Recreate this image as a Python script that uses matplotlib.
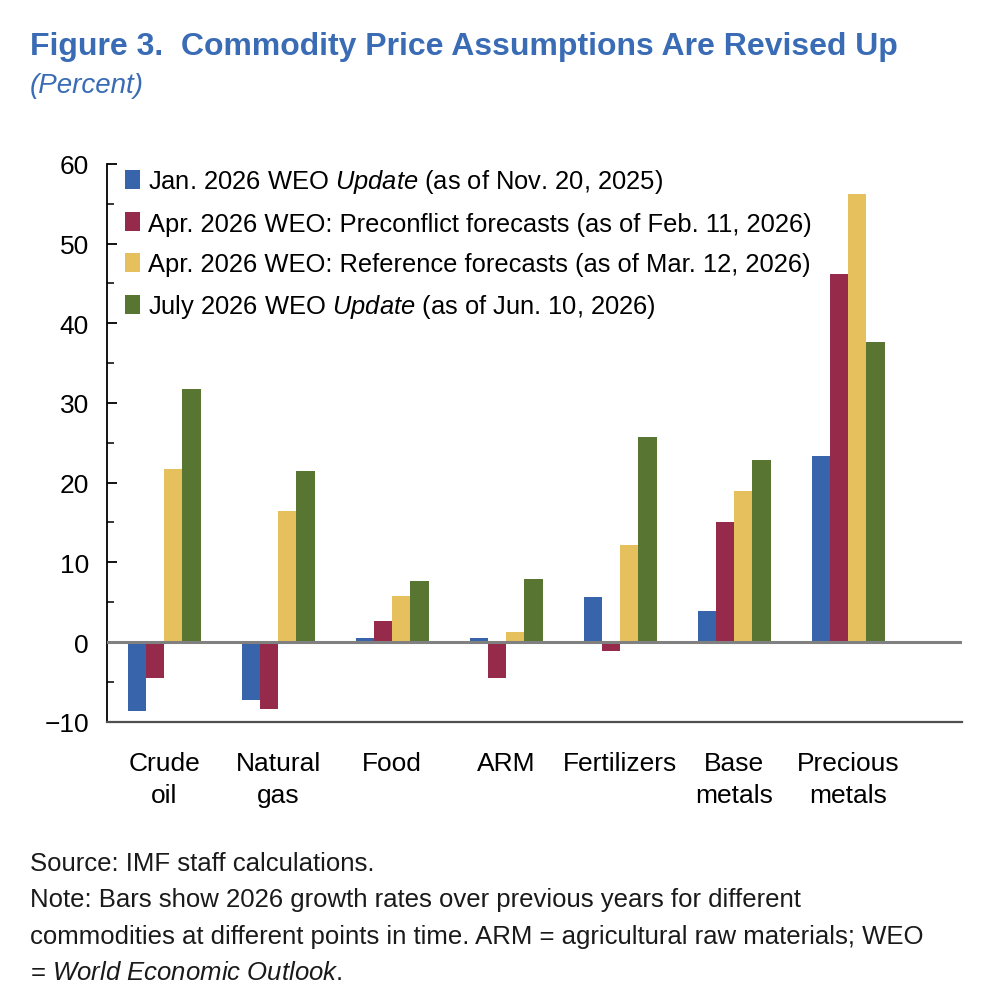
import matplotlib.pyplot as plt
import numpy as np
from matplotlib.ticker import MultipleLocator

plt.rcParams['font.family'] = ['Liberation Sans', 'DejaVu Sans']
plt.rcParams['mathtext.fontset'] = 'custom'
plt.rcParams['mathtext.rm'] = 'Liberation Sans'
plt.rcParams['mathtext.it'] = 'Liberation Sans:italic'

# Data
categories = ['Crude\noil', 'Natural\ngas', 'Food', 'ARM', 'Fertilizers', 'Base\nmetals', 'Precious\nmetals']
jan_update = [-8.7, -7.3, 0.5, 0.5, 5.6, 3.9, 23.4]
apr_preconflict = [-4.5, -8.4, 2.6, -4.5, -1.1, 15.0, 46.2]
apr_reference = [21.7, 16.4, 5.8, 1.2, 12.2, 18.9, 56.2]
jul_update = [31.7, 21.5, 7.6, 7.9, 25.7, 22.8, 37.7]

series_labels = [
    r'Jan. 2026 WEO $\it{Update}$ (as of Nov. 20, 2025)',
    'Apr. 2026 WEO: Preconflict forecasts (as of Feb. 11, 2026)',
    'Apr. 2026 WEO: Reference forecasts (as of Mar. 12, 2026)',
    r'July 2026 WEO $\it{Update}$ (as of Jun. 10, 2026)',
]
colors = ['#3764aa', '#962a4b', '#e6c05c', '#587532']

fig = plt.figure(figsize=(9.92, 10.04), dpi=100)
ax = fig.add_axes([0.1079, 0.2802, 0.8619, 0.5555])

x = np.arange(len(categories))
bar_width = 0.16
all_series = [jan_update, apr_preconflict, apr_reference, jul_update]
for i, (vals, lab, col) in enumerate(zip(all_series, series_labels, colors)):
    ax.bar(x + (i - 1.5) * bar_width, vals, width=bar_width, color=col, label=lab, zorder=2)

# zero line
ax.axhline(0, color='#808080', linewidth=2.2, zorder=3)

ax.set_xlim(-0.5, 7.0)
ax.set_ylim(-10, 60)
ax.set_yticks(np.arange(-10, 61, 10))
ax.yaxis.set_minor_locator(MultipleLocator(5))
ax.set_xticks(x)
ax.set_xticklabels(categories, fontsize=19, linespacing=1.45)

ax.spines['top'].set_visible(False)
ax.spines['right'].set_visible(False)
ax.spines['left'].set_linewidth(1.3)
ax.spines['bottom'].set_color('#505050')
ax.spines['bottom'].set_linewidth(1.6)

ax.tick_params(axis='y', which='major', direction='in', length=7.5, width=1.3, labelsize=19, pad=13)
ax.tick_params(axis='y', which='minor', direction='in', length=5, width=1.1)
ax.tick_params(axis='x', length=0, pad=21)

ax.legend(loc='upper left', bbox_to_anchor=(0.0, 1.026), frameon=False, fontsize=18.4,
          handlelength=0.6, handleheight=0.75, handletextpad=0.3, labelspacing=0.64,
          borderaxespad=0.3)

fig.text(0.030, 0.953, 'Figure 3.  Commodity Price Assumptions Are Revised Up',
         fontsize=23, fontweight='bold', color='#3a6cb5', va='center')
fig.text(0.030, 0.914, '(Percent)', fontsize=20, style='italic', color='#3a6cb5', va='center')

notes = [
    'Source: IMF staff calculations.',
    'Note: Bars show 2026 growth rates over previous years for different',
    'commodities at different points in time. ARM = agricultural raw materials; WEO',
    r'= $\it{World\ Economic\ Outlook}$.',
]
y0 = 0.1395
for k, line in enumerate(notes):
    fig.text(0.030, y0 - k * 0.0362, line, fontsize=18.5, color='#1a1a1a', va='center')

fig.savefig('out.png', dpi=100)
